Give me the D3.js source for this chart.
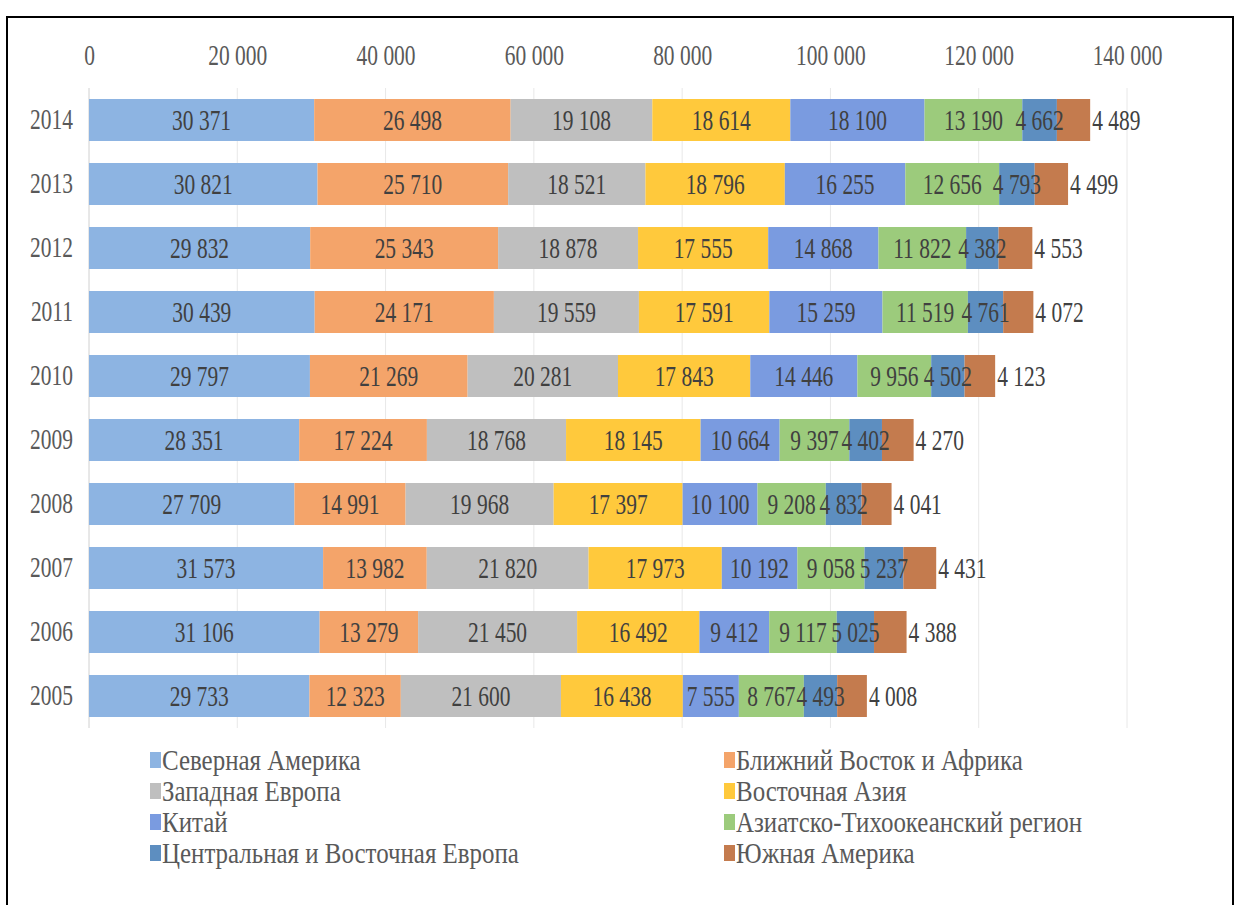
<!DOCTYPE html>
<html><head><meta charset="utf-8">
<script src="https://cdn.jsdelivr.net/npm/d3@7"></script>
<style>body{margin:0;background:#fff;}</style></head>
<body><svg id="c" width="1241" height="905"></svg>
<script>
const years = ["2014","2013","2012","2011","2010","2009","2008","2007","2006","2005"];
const seriesNames = ["Северная Америка","Ближний Восток и Африка","Западная Европа","Восточная Азия","Китай","Азиатско-Тихоокеанский регион","Центральная и Восточная Европа","Южная Америка"];
const colors = ["#8db4e2","#f4a46a","#bfbfbf","#ffc93c","#7a9be0","#9ccb7c","#5d8ec0","#c47b4e"];
const northAmerica = [30371,30821,29832,30439,29797,28351,27709,31573,31106,29733];
const middleEastAfrica = [26498,25710,25343,24171,21269,17224,14991,13982,13279,12323];
const westernEurope = [19108,18521,18878,19559,20281,18768,19968,21820,21450,21600];
const eastAsia = [18614,18796,17555,17591,17843,18145,17397,17973,16492,16438];
const china = [18100,16255,14868,15259,14446,10664,10100,10192,9412,7555];
const asiaPacific = [13190,12656,11822,11519,9956,9397,9208,9058,9117,8767];
const centralEastEurope = [4662,4793,4382,4761,4502,4402,4832,5237,5025,4493];
const southAmerica = [4489,4499,4553,4072,4123,4270,4041,4431,4388,4008];
const xTicks = [0,20000,40000,60000,80000,100000,120000,140000];

const seriesValues = [northAmerica,middleEastAfrica,westernEurope,eastAsia,china,asiaPacific,centralEastEurope,southAmerica];
const table = years.map((y,i)=>{const o={year:y}; seriesNames.forEach((s,j)=>o[s]=seriesValues[j][i]); return o;});
const stack = d3.stack().keys(seriesNames)(table);

const loc = d3.formatLocale({thousands:" ",grouping:[3],decimal:",",currency:["",""]});
const fmt = loc.format(",d");
const FONT = '"Liberation Serif","Times New Roman",serif';
const NUM_SX = 0.74, LEG_SX = 0.86, FS = 29;

const svg = d3.select("#c");
const x = d3.scaleLinear().domain([0,140000]).range([89,1127]);
const y = d3.scaleBand().domain(years).range([88,728]).paddingInner(0.344).paddingOuter(0.172);

svg.append("rect").attr("x",7).attr("y",17).attr("width",1226).attr("height",905)
  .attr("fill","none").attr("stroke","#000").attr("stroke-width",2);

svg.append("g").selectAll("line").data(xTicks).join("line")
  .attr("x1",d=>x(d)).attr("x2",d=>x(d)).attr("y1",88).attr("y2",728)
  .attr("stroke",d=>d===0?"#d0d0d0":"#e8e8e8").attr("stroke-width",1);

const ax = svg.append("g").attr("transform","translate(0,65)").call(d3.axisTop(x).tickValues(xTicks).tickFormat(fmt).tickSize(0).tickPadding(0));
ax.select(".domain").remove();
ax.selectAll("text").style("font-family",FONT).attr("font-size",FS).attr("fill","#595959")
  .attr("transform",`scale(${NUM_SX},1)`);

const ay = svg.append("g").attr("transform","translate(73,0)").call(d3.axisLeft(y).tickSize(0).tickPadding(0));
ay.select(".domain").remove();
ay.selectAll("text").style("font-family",FONT).attr("font-size",FS).attr("fill","#595959")
  .attr("transform",`scale(${NUM_SX},1)`);

const g = svg.append("g");
stack.forEach((layer,j)=>{
  g.append("g").selectAll("rect").data(layer).join("rect")
    .attr("x",d=>x(d[0])).attr("width",d=>x(d[1])-x(d[0]))
    .attr("y",d=>y(d.data.year)).attr("height",y.bandwidth())
    .attr("fill",colors[j]);
});
stack.forEach((layer,j)=>{
  const last = j===stack.length-1;
  g.append("g").selectAll("text").data(layer).join("text")
    .attr("transform",d=>{
      const tx = last ? x(d[1])+2 : (x(d[0])+x(d[1]))/2;
      const ty = y(d.data.year)+y.bandwidth()/2;
      return `translate(${tx},${ty}) scale(${NUM_SX},1)`;
    })
    .attr("dy","0.36em")
    .attr("text-anchor",last?"start":"middle")
    .style("font-family",FONT).attr("font-size",FS).attr("fill","#404040")
    .text(d=>fmt(d[1]-d[0]));
});

const leg = svg.append("g");
seriesNames.forEach((s,i)=>{
  const col = i%2, row = Math.floor(i/2);
  const lx = col===0?150:724, ly = 760 + row*31;
  leg.append("rect").attr("x",lx).attr("y",ly-8).attr("width",11).attr("height",16).attr("fill",colors[i]);
  leg.append("text").attr("transform",`translate(${lx+12},${ly}) scale(${LEG_SX},1)`)
    .attr("dy","0.35em").style("font-family",FONT).attr("font-size",FS).attr("fill","#595959").text(s);
});
</script></body></html>
